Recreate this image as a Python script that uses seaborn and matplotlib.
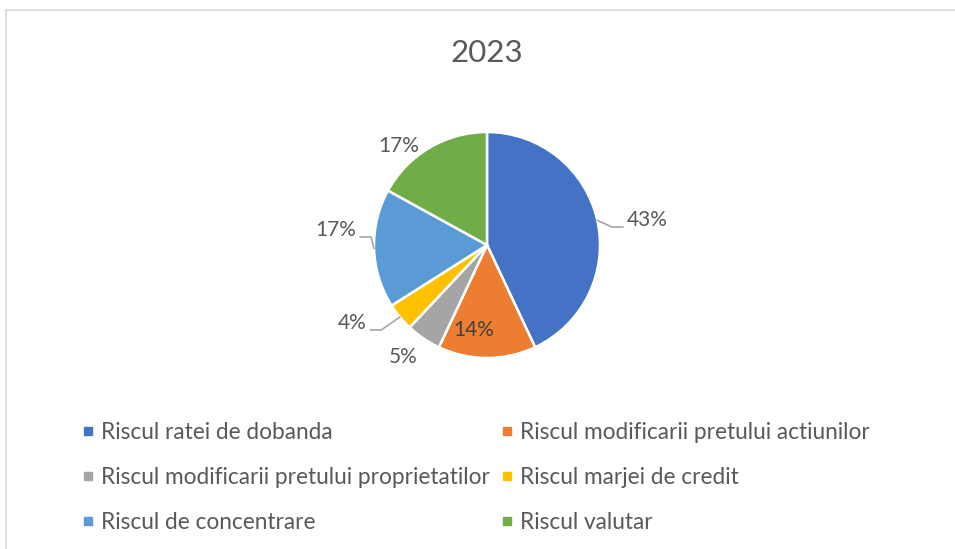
import matplotlib
matplotlib.use("Agg")
import matplotlib.pyplot as plt
from matplotlib.lines import Line2D
from matplotlib.patches import Rectangle
import numpy as np
import seaborn as sns

# ---- data ----
title = "2023"
categories = [
    "Riscul ratei de dobanda",
    "Riscul modificarii pretului actiunilor",
    "Riscul modificarii pretului proprietatilor",
    "Riscul marjei de credit",
    "Riscul de concentrare",
    "Riscul valutar",
]
values = [43, 14, 5, 4, 17, 17]
value_labels = ["43%", "14%", "5%", "4%", "17%", "17%"]

# ---- style ----
colors = sns.color_palette(["#4472C4", "#ED7D31", "#A5A5A5", "#FFC000", "#5B9BD5", "#70AD47"])
sns.set_theme(style="white")
plt.rcParams["font.family"] = ["Lato", "DejaVu Sans"]
TXT = "#595959"

W, H = 955, 549
fig = plt.figure(figsize=(W / 100, H / 100), dpi=100)
fig.patch.set_facecolor("white")

# outer chart border (Excel-like)
fig.patches.append(Rectangle((6 / W, -0.05), 1.2, 1 - 10 / H + 0.05, transform=fig.transFigure,
                             fill=False, edgecolor="#D9D9D9", linewidth=1.2))

# pie axes: centre at (487, 245) px from top, radius 113 px
k = 1.7
cx, cy, r = 487, H - 245, 113
side = 2 * k * r
ax = fig.add_axes([(cx - side / 2) / W, (cy - side / 2) / H, side / W, side / H])
wedges, _ = ax.pie(values, colors=colors, startangle=90, counterclock=False, radius=1,
                   wedgeprops=dict(edgecolor="white", linewidth=1.8))
ax.set_xlim(-k, k)
ax.set_ylim(-k, k)
ax.set_aspect("equal")
ax.axis("off")

# label layout (positions in pie data units)
label_pos = [(1.24, 0.221, "left"), (-0.12, -0.752, "center"), (-0.74, -0.99, "center"),
             (-1.07, -0.69, "right"), (-1.16, 0.133, "right"), (-0.78, 0.876, "center")]
leaders = [True, False, False, True, True, False]
for w, lab, (x, y, ha), lead in zip(wedges, value_labels, label_pos, leaders):
    ax.text(x, y, lab, ha=ha, va="center", fontsize=15, color=TXT if lab != "14%" else "#404040")
    if lead:
        mid = np.deg2rad((w.theta1 + w.theta2) / 2)
        ex, ey = np.cos(mid), np.sin(mid)
        sgn = 1 if ha == "left" else -1
        end_x = x - sgn * 0.036
        elb_x = end_x - sgn * 0.098
        ly = y - 0.062
        ax.plot([ex, elb_x, end_x], [ey, ly, ly], color="#A6A6A6", lw=1.2, clip_on=False,
                solid_joinstyle="miter")

fig.text(487 / W, 1 - 53 / H, title, ha="center", va="center", fontsize=22.5, color=TXT)

# legend, row-wise order
order = [0, 2, 4, 1, 3, 5]
handles = [Line2D([], [], marker="s", linestyle="none", markersize=6,
                  markerfacecolor=colors[i], markeredgecolor=colors[i]) for i in order]
labels = [categories[i] for i in order]
leg = fig.legend(handles, labels, ncol=2, loc="upper left", bbox_to_anchor=(82 / W, 1 - 422 / H),
                 frameon=False, fontsize=16.3, labelcolor=TXT, handlelength=0.55, handletextpad=0.3,
                 columnspacing=0.45, labelspacing=1.06, borderaxespad=0, borderpad=0)

fig.savefig("out.png", dpi=100, facecolor="white")
